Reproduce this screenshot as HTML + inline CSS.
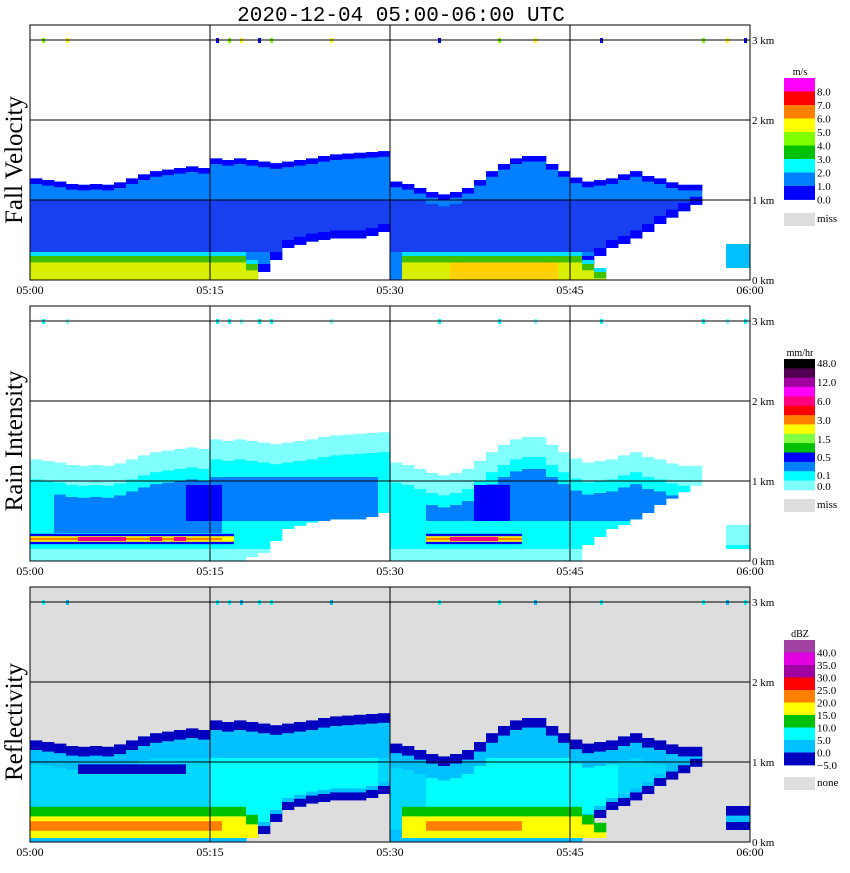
<!DOCTYPE html>
<html><head><meta charset="utf-8"><style>
body{margin:0;background:#fff;}
svg text{font-family:"Liberation Serif",serif;fill:#000;}
</style></head><body>
<svg id="chart" width="850" height="868" viewBox="0 0 850 868" xmlns="http://www.w3.org/2000/svg">
<text x="401" y="21" text-anchor="middle" font-size="21" style="font-family:'Liberation Mono',monospace">2020-12-04  05:00-06:00 UTC</text>
</svg>
<script>
// data (per minute from 05:00, heights in km)
const minutes = [0,1,2,3,4,5,6,7,8,9,10,11,12,13,14,15,16,17,18,19,20,21,22,23,24,25,26,27,28,29,30,31,32,33,34,35,36,37,38,39,40,41,42,43,44,45,46,47,48,49,50,51,52,53,54,55,56,57,58,59];
const tops = [1.27,1.25,1.23,1.2,1.19,1.2,1.19,1.22,1.27,1.32,1.36,1.38,1.4,1.42,1.4,1.52,1.5,1.52,1.5,1.48,1.46,1.48,1.5,1.52,1.55,1.57,1.58,1.59,1.6,1.61,1.23,1.2,1.15,1.1,1.07,1.1,1.15,1.25,1.36,1.45,1.52,1.55,1.55,1.45,1.36,1.28,1.23,1.25,1.27,1.32,1.36,1.3,1.27,1.22,1.19,1.19,null,null,0.45,0.45];
const bases = [0,0,0,0,0,0,0,0,0,0,0,0,0,0,0,0,0,0,0.05,0.1,0.25,0.4,0.44,0.48,0.5,0.52,0.52,0.52,0.55,0.6,0,0,0,0,0,0,0,0,0,0,0,0,0,0,0,0,0.2,0.3,0.4,0.45,0.52,0.6,0.7,0.78,0.86,0.94,null,null,0.15,0.15];
const rainTops = [0.3,0.3,0.3,0.3,0.3,0.3,0.3,0.3,0.3,0.3,0.3,0.3,0.3,0.3,0.3,0.3,0.3,0.3,0.2,0,0,0,0,0,0,0,0,0,0,0,0,0.3,0.3,0.3,0.3,0.3,0.3,0.3,0.3,0.3,0.3,0.3,0.3,0.3,0.3,0.3,0.2,0.1,0,0,0,0,0,0,0,0,0,0,0,0];
const brightBand = [1,1,1,1,1,1,1,1,1,1,1,1,1,1,1,1,1,0,0,0,0,0,0,0,0,0,0,0,0,0,0,0,0,1,1,1,1,1,1,1,1,0,0,0,0,0,0,0,0,0,0,0,0,0,0,0,0,0,0,0];
const coreIntensity = [1,1,1,1,2,2,2,2,1,1,2,1,2,1,1,1,0,0,0,0,0,0,0,0,0,0,0,0,0,0,0,0,0,1,1,2,2,2,2,1,1,0,0,0,0,0,0,0,0,0,0,0,0,0,0,0,0,0,0,0];
const speckTimes = [1,3,15.5,16.5,17.5,19,20,25,34,39,42,47.5,56,58,59.5];
const timeLabels = ["05:00","05:15","05:30","05:45","06:00"];
const heightLabels = ["0 km","1 km","2 km","3 km"];
const velLegendLabels = ["8.0","7.0","6.0","5.0","4.0","3.0","2.0","1.0","0.0"];
const rainLegendLabels = ["48.0","12.0","6.0","3.0","1.5","0.5","0.1","0.0"];
const dbzLegendLabels = ["40.0","35.0","30.0","25.0","20.0","15.0","10.0","5.0","0.0","\u22125.0"];

const NS="http://www.w3.org/2000/svg";
const svg=document.getElementById('chart');
const X0=30,X1=750;
const offs=[0,281,562];
function xs(m){return X0+m*(X1-X0)/60;}
function ys(km,p){return offs[p]+280-km*80;}
function el(tag,attrs,parent){const e=document.createElementNS(NS,tag);for(const k in attrs)e.setAttribute(k,attrs[k]);(parent||svg).appendChild(e);return e;}
function col(i,lo,hi,p,fill,g){
  if(hi<=lo)return;
  const r=el('rect',{x:xs(minutes[i]),y:ys(hi,p),width:(X1-X0)/60+0.3,height:(hi-lo)*80,fill:fill},g);
  
  
}
const titles=["Fall Velocity","Rain Intensity","Reflectivity"];
const speckColors=[['#80ff00','#ffff00','#0000ff'],['#00ffff','#80ffff','#00ffff'],['#00ffff','#00c0ff','#00ffff']];
for(let p=0;p<3;p++){
  const g=el('g',{});
  
  
  if(p===2){const bg=el('rect',{x:X0,y:offs[p]+25,width:X1-X0,height:255,fill:'#dddddd'},g);
    }
  for(let i=0;i<minutes.length;i++){
    const t=tops[i],b=bases[i];
    if(t===null)continue;
    const rt=rainTops[i];
    if(p===0){
      if(i>=58){col(i,b,t,p,'#00c0ff',g);continue;}
      col(i,b,t,p,'#0080ff',g);
      col(i,Math.max(b,0.35),Math.min(t-0.15,1.0),p,'#1840f0',g);
      col(i,t-0.07,t,p,'#0000ff',g);
      if(b>0.05)col(i,b,b+0.1,p,'#0000ff',g);
      if(rt>0){col(i,rt,rt+0.05,p,'#00e0ff',g);col(i,rt-0.08,rt,p,'#40c000',g);col(i,0,rt-0.08,p,(i>34&&i<44)?'#ffd000':'#d8f000',g);}
    } else if(p===1){
      col(i,b,t,p,'#80ffff',g);
      col(i,Math.max(b,0.15),t-0.25,p,'#00ffff',g);
      if((i>=2&&i<=28)||(i>=33&&i<=53)){
        const lo=Math.max(b,(i<16?0.35:0.5)),hi=Math.min(t-0.4,(i>=36&&i<=45)?1.3:1.05);
        col(i,lo,hi,p,'#0080ff',g);
      }
      if((i>=13&&i<=15)||(i>=37&&i<=39))col(i,0.5,0.95,p,'#0000ff',g);
      if(brightBand[i]){col(i,0.21,0.34,p,'#0000ff',g);col(i,0.24,0.31,p,'#ffff00',g);
        if(coreIntensity[i]===2)col(i,0.25,0.3,p,'#ff0080',g);else if(coreIntensity[i]===1)col(i,0.26,0.29,p,'#ff8000',g);}
    } else {
      col(i,b,t,p,'#0000c0',g);
      col(i,b+(b>0.05?0.1:0),t-0.12,p,'#00c0ff',g);
      col(i,Math.max(b+0.15,0.1),Math.min(t-0.3,1.05),p,(i>=15&&i<=28)||(i>=33&&i<=48)?'#00ffff':'#00d8ff',g);
      if(i>=4&&i<=12)col(i,0.85,0.97,p,'#0000c0',g);
      if(rt>0){col(i,rt+0.02,rt+0.14,p,'#00c000',g);col(i,0.05,rt+0.02,p,'#ffff00',g);
        if(coreIntensity[i]>0)col(i,0.14,0.26,p,'#ff8000',g);}
    }
  }
  speckTimes.forEach((m,k)=>{const s=el('rect',{x:xs(m),y:ys(3,p)-2,width:3,height:5,fill:speckColors[p][k%3]},g);
    });
  const fr=el('rect',{x:X0,y:offs[p]+25,width:X1-X0,height:255,fill:'none',stroke:'#000','stroke-width':1},g);
  
  for(let k=1;k<=3;k++){const l=el('line',{x1:xs(k*15),x2:xs(k*15),y1:offs[p]+25,y2:offs[p]+280,stroke:'#000'},g);
    }
  for(let k=1;k<=3;k++){const l=el('line',{x1:X0,x2:X1,y1:ys(k,p),y2:ys(k,p),stroke:'#000'},g);
    }
  heightLabels.forEach((s,k)=>{const t=el('text',{x:752,y:ys(k,p)+4,'font-size':11},g);t.textContent=s;
    });
  timeLabels.forEach((s,k)=>{const t=el('text',{x:xs(k*15),y:offs[p]+294,'font-size':12,'text-anchor':'middle'},g);t.textContent=s;
    });
  const yt=el('text',{x:0,y:0,'font-size':25,'text-anchor':'middle',transform:`translate(22,${offs[p]+160}) rotate(-90)`},g);
  yt.textContent=titles[p];
  
}
function legend(top,unit,colors,bh,labels,labelOffset,missTop,missLabel,name){
  const g=el('g',{});
  
  
  const u=el('text',{x:800,y:top-3,'font-size':10,'text-anchor':'middle'},g);u.textContent=unit;
  
  colors.forEach((c,k)=>{const r=el('rect',{x:784,y:top+k*bh,width:31,height:bh+0.4,fill:c},g);
    });
  labels.forEach((s,k)=>{const t=el('text',{x:817,y:labelOffset[k],'font-size':11},g);t.textContent=s;
    });
  const m=el('rect',{x:784,y:missTop,width:31,height:13,fill:'#dddddd'},g);
  
  const mt=el('text',{x:817,y:missTop+9,'font-size':11},g);mt.textContent=missLabel;
  
}
legend(78,'m/s',['#ff00ff','#ff0000','#ff8000','#ffff00','#80ff00','#00c000','#00ffff','#0080ff','#0000ff'],13.5,
  velLegendLabels,velLegendLabels.map((s,k)=>78+13.5*(k+1)+4),213,'miss','velocity-legend');
legend(359,'mm/hr',['#000000','#500050','#a000a0','#ff00ff','#ff0080','#ff0000','#ff8000','#ffff00','#80ff40','#00c000','#0000ff','#0080ff','#00ffff','#80ffff'],9.35,
  rainLegendLabels,[367,386,405,424,443,461,479,490],499,'miss','rain-legend');
legend(640,'dBZ',['#a040a0','#e000e0','#a000a0','#ff0000','#ff8000','#ffff00','#00c000','#00ffff','#00c0ff','#0000c0'],12.5,
  dbzLegendLabels,dbzLegendLabels.map((s,k)=>640+12.5*(k+1)+4),777,'none','reflectivity-legend');
</script>
</body></html>
